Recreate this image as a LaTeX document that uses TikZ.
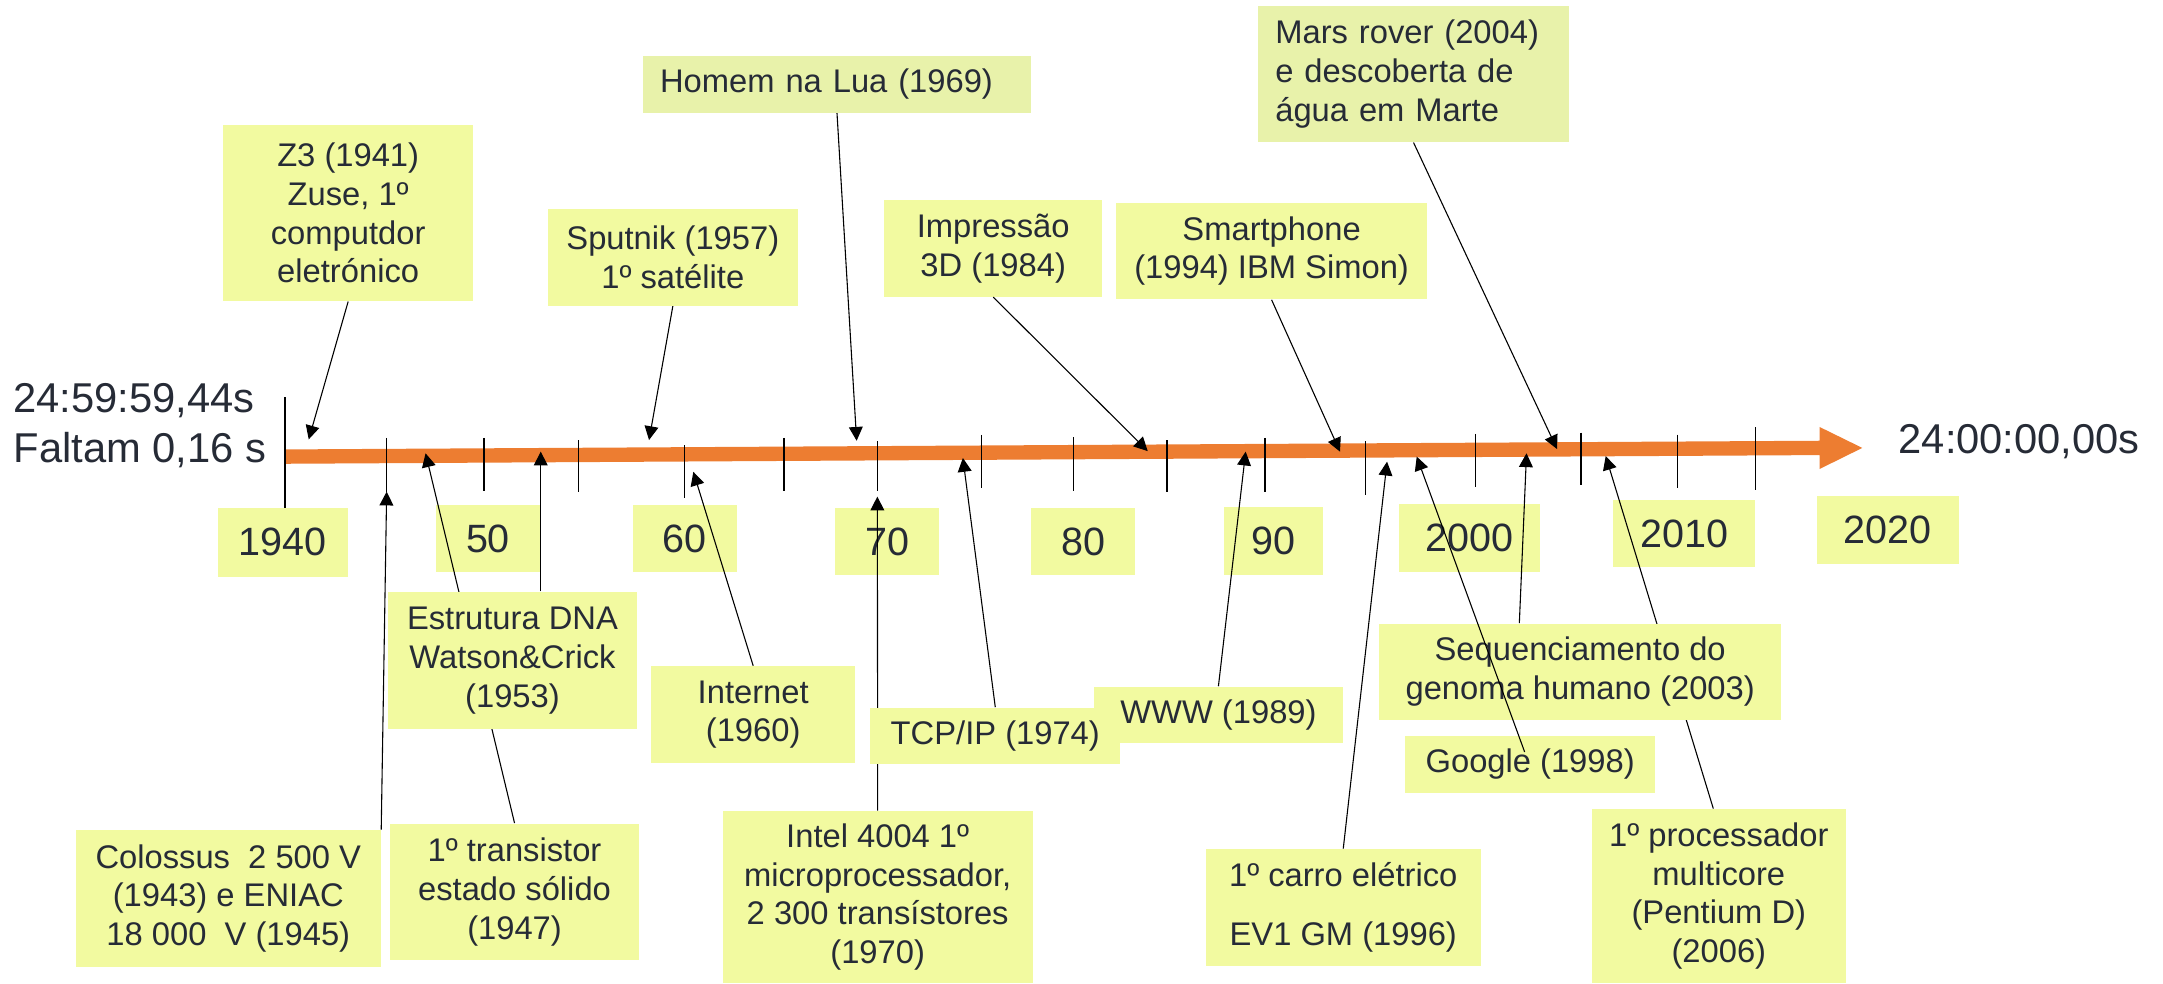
\documentclass[tikz,border=0pt]{standalone}
\usepackage{fontspec}
\setmainfont{Liberation Sans}
\usetikzlibrary{arrows.meta,calc}
\definecolor{boxc}{HTML}{F2FAA0}
\definecolor{boxd}{HTML}{E8F2AA}
\definecolor{txt}{HTML}{262B36}
\definecolor{axisc}{HTML}{ED7D31}
\tikzset{
 sz/.style 2 args={minimum width=#1*0.02cm, minimum height=#2*0.02cm},
 ev/.style={fill=boxc, text=txt, inner sep=0pt, align=center, font=\fontsize{13.5}{16}\selectfont},
 yr/.style={fill=boxc, text=txt, inner sep=0pt, font=\fontsize{16.3}{19}\selectfont},
 tickln/.style={line width=0.6pt, black},
 con/.style={line width=0.45pt, black, -{Triangle[length=0.2cm, width=0.2cm]}},
 tm/.style={text=txt, inner sep=0pt, font=\fontsize{17.2}{20.7}\selectfont},
}
\begin{document}
\begin{tikzpicture}[x=0.02cm, y=-0.02cm]
\useasboundingbox (0,0) rectangle (1568,713);

% axis
\fill[axisc] (207,325.8) -- (1319,319.5) -- (1319,309.5) -- (1350,324.7) -- (1319,340) -- (1319,329.9) -- (207,336.2) -- cycle;
\coordinate (v0) at (206.6,288);
\coordinate (v1) at (206.6,368.5);
\draw[tickln] (v0) -- (v1);
\foreach \x/\a/\b in {280.3/317.5/356.4, 351/317.5/355.7, 419.4/319/357, 496.3/322.6/361,
  568.4/317.5/355.7, 636/319.7/356, 711.6/315.3/353.8, 778/317/356, 846/319/357,
  917/317.5/357, 990/320/358.8, 1069.6/314.6/352.8, 1146/313.6/351.7, 1216/315/353.8, 1272.6/309.6/355}
  \draw[tickln] (\x,\a) -- (\x,\b);

\node[tm, anchor=north west, align=left] (tl) at (9.5,277.6) {24:59:59,44s\\Faltam 0,16 s};
\node[tm, anchor=base west] (tr) at (1376,328.8) {24:00:00,00s};

% year boxes
\node[yr, sz={94}{50}] (y1940) at (205,393) {1940};
\node[yr, sz={75.5}{49}] (y50) at (353.75,390.5) {50};
\node[yr, sz={75.4}{49}] (y60) at (496.3,390.5) {60};
\node[yr, sz={75.3}{49}] (y70) at (643.15,392.5) {70};
\node[yr, sz={75.6}{49}] (y80) at (785.2,392.5) {80};
\node[yr, sz={72}{49.3}] (y90) at (923,392.15) {90};
\node[yr, sz={102.5}{49.6}] (y2000) at (1065.25,390.2) {2000};
\node[yr, sz={103}{48.5}] (y2010) at (1221,386.75) {2010};
\node[yr, sz={103}{49.3}] (y2020) at (1368.5,384.15) {2020};

% top event boxes
\node[ev, sz={181}{127.6}] (z3) at (252.4,154.4) {Z3 (1941)\\Zuse, 1º\\computdor\\eletrónico};
\node[ev, sz={181.5}{70}] (sput) at (487.75,186.55) {Sputnik (1957)\\1º satélite};
\node[ev, fill=boxd, sz={281.5}{41}, align=left, inner xsep=0.25cm, text width=5.13cm] (homem) at (606.75,61.15) {Homem na Lua (1969)};
\node[ev, sz={158}{70}] (imp) at (720,180) {Impressão\\3D (1984)};
\node[ev, sz={225.6}{70}] (smart) at (921.8,182) {Smartphone\\(1994) IBM Simon)};
\node[ev, fill=boxd, sz={225.4}{99}, align=left, inner xsep=0.25cm, text width=4.008cm] (mars) at (1024.7,53.5) {Mars rover (2004)\\e descoberta de\\água em Marte};

% bottom event boxes (first group)
\node[ev, sz={221}{99}] (col) at (165.5,651.2) {Colossus~~2 500 V\\(1943) e ENIAC\\18 000~~V (1945)};
\node[ev, sz={180}{99}] (trans) at (373,646.5) {1º transistor\\estado sólido\\(1947)};
\node[ev, sz={148}{70}] (net) at (546,518) {Internet\\(1960)};
\node[ev, sz={224.5}{124.6}] (intel) at (636.25,650.3) {Intel 4004 1º\\microprocessador,\\2 300 transístores\\(1970)};
\node[ev, sz={180.5}{41}] (www) at (883.25,518.3) {WWW (1989)};
\node[ev, sz={199.5}{84.5}] (carro) at (973.75,657.75) {1º carro elétrico\\[0.28cm]EV1 GM (1996)};
\node[ev, sz={181.5}{41}] (google) at (1109.25,554) {Google (1998)};
\node[ev, sz={184}{126}] (multi) at (1246,649.5) {1º processador\\multicore\\(Pentium D)\\(2006)};

% arrow tips
\coordinate (tZ3) at (223.8,318.5);
\coordinate (tSput) at (470.5,319);
\coordinate (tHom) at (621,319.5);
\coordinate (tImp) at (832,327);
\coordinate (tSmart) at (971.4,327.4);
\coordinate (tMars) at (1128.7,325.5);
\coordinate (tCol) at (280.3,356.4);
\coordinate (tTrans) at (308.5,328.6);
\coordinate (tDNA) at (392,327.4);
\coordinate (tNet) at (502.6,342);
\coordinate (tIntel) at (636,360);
\coordinate (tTcp) at (698,332);
\coordinate (tWww) at (903,327.4);
\coordinate (tCar) at (1005.5,334.7);
\coordinate (tGoo) at (1027,331);
\coordinate (tSeq) at (1106.6,328.6);
\coordinate (tMul) at (1164,330.6);

% arrows hidden behind later boxes
\draw[con] (trans.north) -- (tTrans);
\draw[con] (intel.north) -- (tIntel);
\draw[con] ($(multi.north)+(-4,0)$) -- (tMul);

% boxes on top of those arrows
\node[ev, sz={181}{99.5}] (dna) at (371.5,478.75) {Estrutura DNA\\Watson\&Crick\\(1953)};
\node[ev, sz={181}{41}] (tcp) at (721.5,533.5) {TCP/IP (1974)};
\node[ev, sz={291}{70}] (seq) at (1145.5,487) {Sequenciamento do\\genoma humano (2003)};

% remaining arrows
\draw[con] (z3.south) -- (tZ3);
\draw[con] (sput.south) -- (tSput);
\draw[con] (homem.south) -- (tHom);
\draw[con] (imp.south) -- (tImp);
\draw[con] (smart.south) -- (tSmart);
\draw[con] (mars.south) -- (tMars);
\draw[con] (col.north east) -- (tCol);
\draw[con] (dna.north -| tDNA) -- (tDNA);
\draw[con] (net.north) -- (tNet);
\draw[con] (tcp.north) -- (tTcp);
\draw[con] (www.north) -- (tWww);
\draw[con] (carro.north) -- (tCar);
\draw[con] ($(google.north)+(-4,12)$) -- (tGoo);
\draw[con] ($(seq.north west)!0.3488!(seq.north east)$) -- (tSeq);
\end{tikzpicture}
\end{document}
